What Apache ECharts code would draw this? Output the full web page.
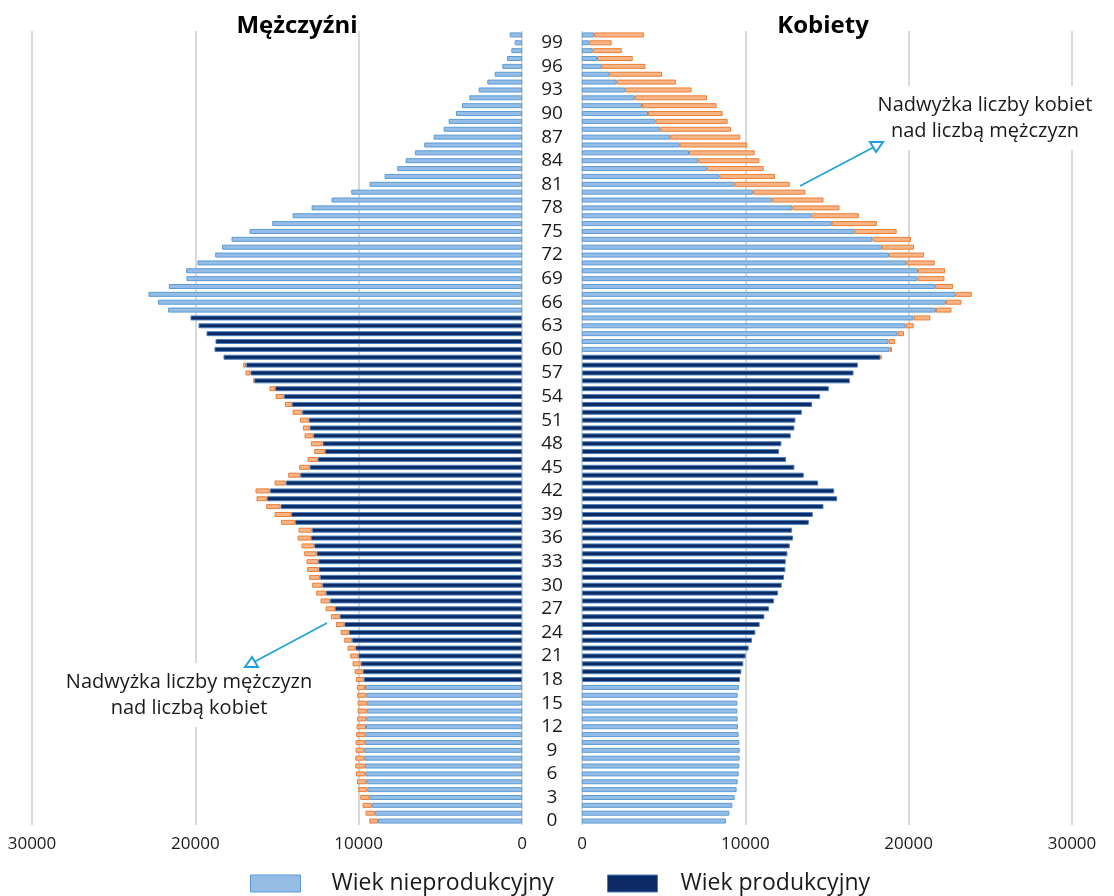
<!DOCTYPE html>
<html>
<head>
<meta charset="utf-8">
<title>Piramida wieku</title>
<script src="https://cdn.jsdelivr.net/npm/echarts/dist/echarts.min.js"></script>
<style>
html,body{margin:0;padding:0;background:#fff;}
#chart{width:1114px;height:896px;}
</style>
</head>
<body>
<div id="chart"></div>
<script>
// wiek 0..100 (100 = 100 i więcej)
var ages = [];
for (var a = 0; a <= 100; a++) ages.push(String(a));

// mężczyźni, wiek 0..100
var men = [9352,9577,9761,9904,10026,10108,10169,10210,10210,10190,
	10190,10149,10128,10088,10067,10067,10088,10108,10169,10251,
	10373,10516,10680,10884,11108,11394,11701,12027,12334,12599,
	12844,13028,13150,13191,13334,13498,13743,13681,14764,15152,
	15662,16254,16316,15152,14314,13641,13130,12722,12926,13314,
	13416,13600,14049,14519,15090,15458,16438,16928,17071,18276,
	18827,18766,19317,19807,20297,21666,22278,22870,21625,20543,
	20563,19869,18786,18358,17786,16683,15295,14049,12885,11660,
	10455,9332,8413,7637,7127,6555,5983,5411,4799,4492,
	4043,3676,3226,2655,2124,1674,1205,919,653,449,
	755];
// kobiety, wiek 0..100
var women = [8814,9018,9203,9346,9468,9530,9591,9632,9652,9652,
	9632,9591,9550,9530,9509,9509,9530,9612,9673,9755,
	9877,10020,10205,10409,10614,10879,11166,11452,11759,12004,
	12229,12372,12454,12475,12577,12720,12924,12863,13886,14131,
	14785,15624,15440,14458,13579,13006,12495,12066,12209,12781,
	13006,13068,13456,14090,14581,15113,16401,16626,16892,18344,
	18978,19162,19714,20307,21329,22618,23231,23865,22720,22188,
	22229,21595,20941,20327,20143,19264,18057,16953,15767,14785,
	13681,12720,11820,11125,10859,10573,10123,9693,9121,8916,
	8609,8241,7648,6708,5746,4908,3886,3108,2434,1820,
	3804];
// wiek produkcyjny
var menWorkAge = [18, 64];
var womenWorkAge = [18, 59];
var xTicks = [0, 10000, 20000, 30000];

var font = 'Open Sans';
var lightStyle = {color:'#95bde6', borderColor:'#5b9bd5', borderWidth:1};
var darkStyle = {color:'#0b2a66', borderColor:'#4a7ebb', borderWidth:1};
var orangeStyle = {color:'#f6b589', borderColor:'#ed7d31', borderWidth:1};

// słupki jednej płci: wspólna część (min) + nadwyżka
var buildSide = function (vals, other, work, idx, stack) {
	var nonProd = [], prod = [], surplus = [];
	for (var i = 0; i < vals.length; i++) {
		var base = Math.min(vals[i], other[i]);
		var isWork = i >= work[0] && i <= work[1];
		nonProd.push(isWork ? '-' : base);
		prod.push(isWork ? base : '-');
		surplus.push(vals[i] > other[i] ? vals[i] - other[i] : '-');
	}
	var common = {type:'bar', stack:stack, xAxisIndex:idx, yAxisIndex:idx, barWidth:5, silent:true};
	return [
		Object.assign({name:'Wiek nieprodukcyjny', data:nonProd, itemStyle:lightStyle}, common),
		Object.assign({name:'Wiek produkcyjny', data:prod, itemStyle:darkStyle}, common),
		Object.assign({name:'Nadwyżka', data:surplus, itemStyle:orangeStyle}, common)
	];
};

var xAxisBase = function (idx, inverse) {
	return {
		type:'value', gridIndex:idx, inverse:inverse,
		min:xTicks[0], max:xTicks[xTicks.length-1], interval:xTicks[1]-xTicks[0],
		axisLine:{show:false}, axisTick:{show:false},
		axisLabel:{fontFamily:font, fontSize:17, color:'#1a1a1a', margin:11,
			formatter:function (v) { return String(v); }},
		splitLine:{show:true, lineStyle:{color:'#d9d9d9', width:2}}
	};
};

var legendBase = {top:872, padding:0, itemWidth:50, itemHeight:17, icon:'rect', selectedMode:false};

var myChart = echarts.init(document.getElementById('chart'));
var option = {
	animation:false,
	backgroundColor:'#ffffff',
	title:[
		{text:'Mężczyźni', left:292, top:9, textAlign:'center',
			textStyle:{fontFamily:font, fontSize:24, fontWeight:'bold', color:'#000'}},
		{text:'Kobiety', left:818, top:9, textAlign:'center',
			textStyle:{fontFamily:font, fontSize:24, fontWeight:'bold', color:'#000'}}
	],
	grid:[
		{left:32, width:490, top:31, height:794},
		{left:582, width:490, top:31, height:794}
	],
	xAxis:[xAxisBase(0, true), xAxisBase(1, false)],
	yAxis:[
		{type:'category', gridIndex:0, data:ages, axisLine:{show:false}, axisTick:{show:false}, axisLabel:{show:false}},
		{type:'category', gridIndex:1, data:ages, axisLine:{show:false}, axisTick:{show:false},
			axisLabel:{show:true, align:'center', margin:30, fontFamily:font, fontSize:19, color:'#1a1a1a',
				interval:function (index) { return index % 3 === 0 && index < 100; }}}
	],
	legend:[
		Object.assign({data:[{name:'Wiek nieprodukcyjny', itemStyle:lightStyle}], left:250,
			textStyle:{fontFamily:font, fontSize:23, color:'#1a1a1a', padding:[0,0,0,26]}}, legendBase),
		Object.assign({data:[{name:'Wiek produkcyjny', itemStyle:darkStyle}], left:607,
			textStyle:{fontFamily:font, fontSize:23, color:'#1a1a1a', padding:[0,0,0,18]}}, legendBase)
	],
	series:[].concat(
		buildSide(men, women, menWorkAge, 0, 'm'),
		buildSide(women, men, womenWorkAge, 1, 'k')
	),
	graphic:[
		{type:'text', z:100, style:{text:'Nadwyżka liczby kobiet\nnad liczbą mężczyzn', x:985, y:118,
			align:'center', verticalAlign:'middle', font:'20px "Open Sans"', lineHeight:26,
			fill:'#1a1a1a', backgroundColor:'#fff', padding:[6,6]}},
		{type:'line', z:100, shape:{x1:800, y1:186, x2:874, y2:147}, style:{stroke:'#1e9fd8', lineWidth:1.5}},
		{type:'polygon', z:100, shape:{points:[[883,142],[876,152],[870,142]]},
			style:{fill:'#fff', stroke:'#1e9fd8', lineWidth:2}},
		{type:'text', z:100, style:{text:'Nadwyżka liczby mężczyzn\nnad liczbą kobiet', x:189, y:695,
			align:'center', verticalAlign:'middle', font:'20px "Open Sans"', lineHeight:26,
			fill:'#1a1a1a', backgroundColor:'#fff', padding:[6,6]}},
		{type:'line', z:100, shape:{x1:327, y1:623, x2:254, y2:662}, style:{stroke:'#1e9fd8', lineWidth:1.5}},
		{type:'polygon', z:100, shape:{points:[[245,667],[252,657],[258,667]]},
			style:{fill:'#fff', stroke:'#1e9fd8', lineWidth:2}}
	]
};
myChart.setOption(option);
</script>
</body>
</html>
